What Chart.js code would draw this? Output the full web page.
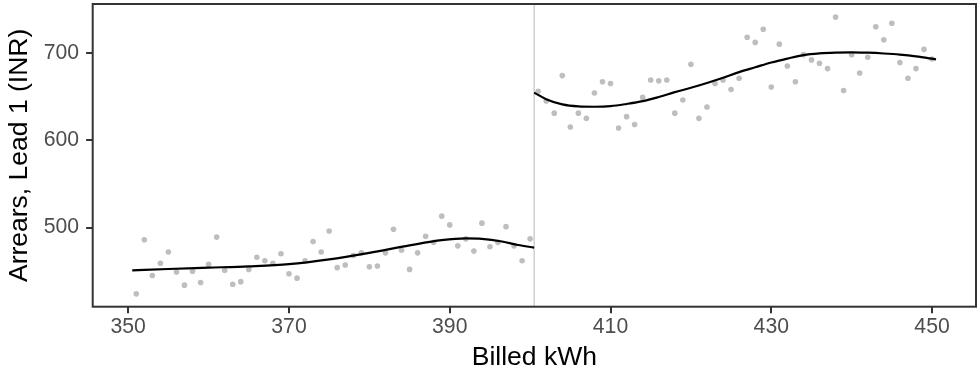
<!DOCTYPE html>
<html>
<head>
<meta charset="utf-8">
<script src="https://cdn.jsdelivr.net/npm/chart.js@4.4.1/dist/chart.umd.min.js"></script>
<style>
html,body{margin:0;padding:0;background:#fff;}
#wrap{width:980px;height:372px;}
</style>
</head>
<body>
<div id="wrap"><canvas id="c" width="980" height="372"></canvas></div>
<script>
// ---- data ----
const kwhLeft = [351,352,353,354,355,356,357,358,359,360,361,362,363,364,365,366,367,368,369,370,
                 371,372,373,374,375,376,377,378,379,380,381,382,383,384,385,386,387,388,389,390,
                 391,392,393,394,395,396,397,398,399,400];
const arrearsLeft = [424,486,445,459,472,449,434,450,437,458,489,451,435,438,452,466,462,459,470,447,
                     442,462,484,472,496,454,457,468,471,455,456,471,498,474,452,471,490,483,513,503,
                     479,487,473,505,478,483,501,479,462,487];
const kwhRight = [401,402,403,404,405,406,407,408,409,410,411,412,413,414,415,416,417,418,419,420,
                  421,422,423,424,425,426,427,428,429,430,431,432,433,434,435,436,437,438,439,440,
                  441,442,443,444,445,446,447,448,449,450];
const arrearsRight = [656,645,631,674,615,631,625,654,667,665,614,627,618,649,669,668,669,631,646,687,
                      625,638,665,669,658,671,718,712,727,661,710,685,667,698,692,688,682,741,657,698,
                      677,695,730,715,734,689,671,682,704,693];
// fitted curves
const fitLeftX = [350.5,355,360,365,370,375,380,385,389,392,394,396.5,398.5,400.5];
const fitLeftY = [451,452.5,454,455.5,458,463.5,471,479.5,485.5,487.5,487,484,480,477];
const fitRightX = [400.5,402,404,406,408,410,412,414,416,418,420,422,424,426,428,430,432,434,436,438,440,442,444,446,448,450.5];
const fitRightY = [654.5,647,641,638.7,638.3,639,641.5,644.7,649.5,655,660,665.5,671.5,678,683.5,689,693.5,697.5,699.5,700.4,700.7,700.2,699.3,698,696,692.5];
const cutoff = 400.5;
const xTicks = [350,370,390,410,430,450];
const yTicks = [500,600,700];
const xRange = [345.58,455.47];
const yRange = [409.3,756];
const xTitle = 'Billed kWh';
const yTitle = 'Arrears, Lead 1 (INR)';

const zip = (xs, ys) => xs.map((x,i)=>({x:x,y:ys[i]}));
const FONT = '"Liberation Sans", Arial, Helvetica, sans-serif';

const frame = {
  id:'frame',
  afterDatasetsDraw(chart){
    const {ctx, chartArea:a} = chart;
    ctx.save();
    ctx.strokeStyle = '#333333';
    ctx.lineWidth = 2;
    ctx.strokeRect(a.left, a.top, a.right-a.left, a.bottom-a.top);
    ctx.restore();
  }
};

new Chart(document.getElementById('c'), {
  type:'scatter',
  data:{
    datasets:[
      {label:'fitLeft', data:zip(fitLeftX,fitLeftY), showLine:true, borderColor:'#000', borderWidth:2.2,
       pointRadius:0, cubicInterpolationMode:'monotone', order:0},
      {label:'fitRight', data:zip(fitRightX,fitRightY), showLine:true, borderColor:'#000', borderWidth:2.2,
       pointRadius:0, cubicInterpolationMode:'monotone', order:0},
      {label:'left', data:zip(kwhLeft,arrearsLeft), pointRadius:2.8, pointBackgroundColor:'#bebebe',
       pointBorderWidth:0, borderColor:'#bebebe', order:1},
      {label:'right', data:zip(kwhRight,arrearsRight), pointRadius:2.8, pointBackgroundColor:'#bebebe',
       pointBorderWidth:0, borderColor:'#bebebe', order:1},
      {label:'cutoff', data:[{x:cutoff,y:yRange[0]},{x:cutoff,y:yRange[1]}], showLine:true,
       borderColor:'#c4c4c4', borderWidth:1.2, pointRadius:0, order:2}
    ]
  },
  options:{
    responsive:false, animation:false, devicePixelRatio:1,
    layout:{padding:{top:3.3,right:2.7,left:0,bottom:0}},
    plugins:{legend:{display:false}, tooltip:{enabled:false}},
    scales:{
      x:{
        type:'linear', min:xRange[0], max:xRange[1],
        afterBuildTicks(s){ s.ticks = xTicks.map(v=>({value:v})); },
        afterFit(s){ s.height = 65.3; s.paddingLeft = 0; s.paddingRight = 0; },
        grid:{drawOnChartArea:false, drawTicks:true, tickLength:6.6, tickWidth:2, tickColor:'#333333', color:'#333333', lineWidth:2},
        border:{display:false},
        ticks:{color:'#4d4d4d', font:{family:FONT, size:21.2}, padding:1.5, maxRotation:0, autoSkip:false},
        title:{display:true, text:xTitle, color:'#000', font:{family:FONT, size:26.5}, padding:{top:0,bottom:-1.5}}
      },
      y:{
        type:'linear', min:yRange[0], max:yRange[1],
        afterBuildTicks(s){ s.ticks = yTicks.map(v=>({value:v})); },
        afterFit(s){ s.width = 92.7; s.paddingTop = 0; s.paddingBottom = 0; },
        grid:{drawOnChartArea:false, drawTicks:true, tickLength:6.6, tickWidth:2, tickColor:'#333333', color:'#333333', lineWidth:2},
        border:{display:false},
        ticks:{color:'#4d4d4d', font:{family:FONT, size:21.2}, padding:7, autoSkip:false},
        title:{display:true, text:yTitle, color:'#000', font:{family:FONT, size:26.5}, padding:{top:3.6,bottom:0}}
      }
    }
  },
  plugins:[frame]
});
</script>
</body>
</html>
